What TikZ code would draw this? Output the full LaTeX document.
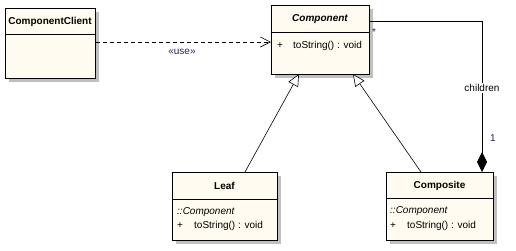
\documentclass[tikz,border=0pt]{standalone}
\usepackage{fontspec}
\setmainfont{Liberation Sans}
\usetikzlibrary{arrows.meta,positioning}
\definecolor{boxfill}{RGB}{255,251,240}
\definecolor{shadowgray}{RGB}{192,192,192}
\definecolor{lblnavy}{RGB}{40,30,100}
\tikzset{
  umlbox/.style={draw=black, line width=0.9pt, fill=boxfill, inner sep=0pt, anchor=north west},
  shadowbox/.style={fill=shadowgray, draw=none},
  ttl/.style={font=\fontsize{10}{11}\selectfont\bfseries, inner sep=0pt},
  ttli/.style={font=\fontsize{10}{11}\selectfont\bfseries\itshape, inner sep=0pt},
  memb/.style={font=\fontsize{10}{11}\selectfont, inner sep=0pt, anchor=west},
  membi/.style={font=\fontsize{10}{11}\selectfont\itshape, inner sep=0pt, anchor=west},
  lbl/.style={font=\fontsize{10}{11}\selectfont, inner sep=1pt},
  conn/.style={draw=black, line width=0.6pt},
  gentip/.style={-{Triangle[open, fill=white, length=12pt, width=11pt]}},
  usetip/.style={-{Straight Barb[length=10pt, width=10pt, line width=0.6pt]}},
  comptip/.style={{Diamond[length=20pt, width=10pt]}-},
}
\begin{document}
\begin{tikzpicture}[x=1pt,y=-1pt]
\useasboundingbox (0,0) rectangle (516,250);
% shadows
\fill[shadowbox] (9,12) rectangle (99,82);
\fill[shadowbox] (275,9) rectangle (373,78);
\fill[shadowbox] (176,176) rectangle (281,244);
\fill[shadowbox] (390,176) rectangle (497,244);
% boxes
\node[umlbox, minimum width=90pt, minimum height=70pt] (client) at (5,8) {};
\node[umlbox, minimum width=98pt, minimum height=69pt] (comp) at (271,5) {};
\node[umlbox, minimum width=105pt, minimum height=68pt] (leaf) at (172,172) {};
\node[umlbox, minimum width=107pt, minimum height=68pt] (composite) at (386,172) {};
% separators
\draw[line width=0.9pt] (client.west |- 0,34) -- (client.east |- 0,34);
\draw[line width=0.9pt] (comp.west |- 0,32) -- (comp.east |- 0,32);
\draw[line width=0.9pt] (leaf.west |- 0,199) -- (leaf.east |- 0,199);
\draw[line width=0.9pt] (composite.west |- 0,198) -- (composite.east |- 0,198);
% texts
\node[ttl] (clientT) at (50,22) {ComponentClient};
\node[ttli] (compT) at (320,19) {Component};
\node[memb] (compP) at (277,46) {+};
\node[memb] (compO) at (293,46) {toString() : void};
\node[ttl] (leafT) at (224.5,186) {Leaf};
\node[membi] (leafI) at (177,212) {::Component};
\node[memb] (leafP) at (177,226) {+};
\node[memb] (leafO) at (194,226) {toString() : void};
\node[ttl] (compositeT) at (439.5,186) {Composite};
\node[membi] (compositeI) at (390,211) {::Component};
\node[memb] (compositeP) at (390,226) {+};
\node[memb] (compositeO) at (407,226) {toString() : void};
% connectors
\coordinate (useA) at (client.east |- 0,42);
\coordinate (useB) at (comp.west |- 0,42);
\draw[conn, dashed, dash pattern=on 4pt off 3pt, usetip] (useA) -- (useB);
\node[lbl, text=lblnavy] (useL) at (182,52) {«use»};
\coordinate (leafTop) at (245,172);
\coordinate (leafTgt) at (299,74);
\draw[conn, gentip] (leafTop) -- (leafTgt);
\coordinate (compositeTop) at (421,172);
\coordinate (compositeTgt) at (353,74);
\draw[conn, gentip] (compositeTop) -- (compositeTgt);
\coordinate (aggA) at (comp.east |- 0,21);
\coordinate (aggB) at (482,172);
\draw[conn, line width=0.9pt, comptip] (aggB) |- (aggA);
\node[lbl, fill=white] (childL) at (482,88) {children};
\node[lbl, text=lblnavy] (oneL) at (493,138) {1};
\node[lbl, text=lblnavy] (starL) at (374,32) {*};
\end{tikzpicture}
\end{document}
